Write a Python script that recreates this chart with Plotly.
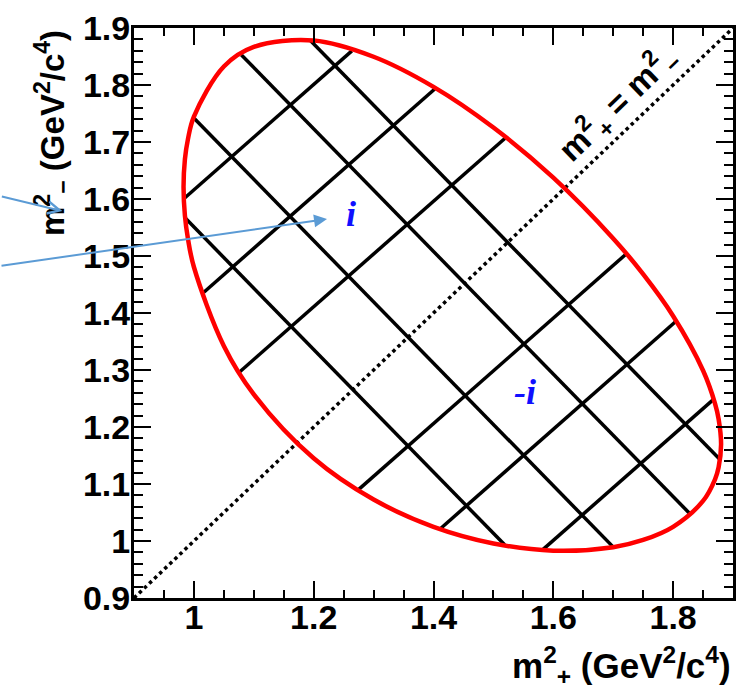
import plotly.graph_objects as go

# Dalitz-plot boundary (m+^2, m-^2) in GeV^2/c^4 : upper branch left->right, lower branch right->left
bnd_x = [0.9827, 0.985, 0.99, 1.0, 1.05, 1.1, 1.2, 1.3, 1.4, 1.5, 1.6, 1.7, 1.75, 1.8, 1.85, 1.87, 1.876, 1.8801,
         1.876, 1.87, 1.85, 1.8, 1.75, 1.7, 1.6, 1.5, 1.4, 1.3, 1.2, 1.1, 1.05, 1.0, 0.99, 0.985]
bnd_y = [1.6215, 1.6696, 1.7046, 1.7446, 1.8324, 1.8668, 1.8781, 1.8496, 1.7968, 1.7254, 1.6375, 1.5309, 1.4681,
         1.3948, 1.2992, 1.2412, 1.2140, 1.1697,
         1.1294, 1.1083, 1.0703, 1.0249, 1.0018, 0.9892, 0.9831, 0.9957, 1.0249, 1.0727, 1.1451, 1.2574, 1.3423,
         1.4807, 1.5308, 1.5709]

# bin edges: two families of straight lines y = slope*x + offset
edge_a_slope = -1.075
edge_a_offsets = [2.626, 2.817, 3.013, 3.162]
edge_b_slope = 0.925
edge_b_offsets = [0.691, 0.496, 0.301, -0.089, -0.284, -0.479]

diag = [0.9, 1.9]
label_i = (1.262, 1.573)
label_mi = (1.553, 1.262)

x_ticks = [1.0, 1.2, 1.4, 1.6, 1.8]
y_ticks = [0.9, 1.0, 1.1, 1.2, 1.3, 1.4, 1.5, 1.6, 1.7, 1.8, 1.9]


def chord(slope, c):
    pts = []
    n = len(bnd_x)
    for k in range(n):
        x1, y1 = bnd_x[k], bnd_y[k]
        x2, y2 = bnd_x[(k + 1) % n], bnd_y[(k + 1) % n]
        f1 = y1 - (slope * x1 + c)
        f2 = y2 - (slope * x2 + c)
        if f1 == 0:
            pts.append((x1, y1))
        elif f1 * f2 < 0:
            t = f1 / (f1 - f2)
            pts.append((x1 + t * (x2 - x1), y1 + t * (y2 - y1)))
    return pts[0], pts[-1]


gx, gy = [], []
for c in edge_a_offsets:
    a, b = chord(edge_a_slope, c)
    gx += [a[0], b[0], None]
    gy += [a[1], b[1], None]
for c in edge_b_offsets:
    a, b = chord(edge_b_slope, c)
    gx += [a[0], b[0], None]
    gy += [a[1], b[1], None]

# closed boundary loop, start at the top (smooth point)
k0 = bnd_x.index(1.2)
lx = bnd_x[k0:] + bnd_x[:k0 + 1]
ly = bnd_y[k0:] + bnd_y[:k0 + 1]

fig = go.Figure()
fig.add_trace(go.Scatter(x=diag, y=diag, mode="lines",
                         line=dict(color="black", width=3.5, dash="dot"), hoverinfo="skip"))
fig.add_trace(go.Scatter(x=gx, y=gy, mode="lines",
                         line=dict(color="black", width=3.5), hoverinfo="skip"))
fig.add_trace(go.Scatter(x=lx, y=ly, mode="lines", line_shape="spline",
                         line=dict(color="#ff0000", width=4.5), hoverinfo="skip"))

tickfont = dict(family="Liberation Sans", size=34, color="black", weight="bold")
fig.update_xaxes(range=[0.9, 1.9], tickvals=x_ticks, ticktext=["1", "1.2", "1.4", "1.6", "1.8"],
                 ticks="inside", ticklen=17, tickwidth=2, tickcolor="black", ticklabelstandoff=-13,
                 minor=dict(dtick=0.05, tick0=0.9, ticks="inside", ticklen=8, tickwidth=2, tickcolor="black"),
                 showline=True, linecolor="black", linewidth=3, mirror="allticks",
                 showgrid=False, zeroline=False, tickfont=tickfont)
fig.update_yaxes(range=[0.9, 1.9], tickvals=y_ticks,
                 ticktext=["0.9", "1", "1.1", "1.2", "1.3", "1.4", "1.5", "1.6", "1.7", "1.8", "1.9"],
                 ticks="inside", ticklen=17, tickwidth=2, tickcolor="black", ticklabelstandoff=-6,
                 minor=dict(dtick=0.02, tick0=0.9, ticks="inside", ticklen=9, tickwidth=2, tickcolor="black"),
                 showline=True, linecolor="black", linewidth=3, mirror="allticks",
                 showgrid=False, zeroline=False, tickfont=tickfont)

titlefont = dict(family="Liberation Sans", size=35, color="black", weight="bold")
blue = "#5b9bd5"
fig.update_layout(
    width=745, height=689,
    margin=dict(l=134, r=9, t=22, b=91),
    plot_bgcolor="white", paper_bgcolor="white",
    showlegend=False,
    annotations=[
        dict(text="m<sup>2</sup><sub>+</sub> (GeV<sup>2</sup>/c<sup>4</sup>)", xref="paper", yref="paper",
             x=1.0, y=-0.118, xanchor="right", yanchor="middle", showarrow=False, font=titlefont),
        dict(text="m<sup>2</sup><sub>\u2212</sub> (GeV<sup>2</sup>/c<sup>4</sup>)", xref="paper", yref="paper",
             x=-0.136, y=0.815, xanchor="center", yanchor="middle", textangle=-90, showarrow=False,
             font=dict(family="Liberation Sans", size=33, color="black", weight="bold")),
        dict(text="m<sup>2</sup><sub>+</sub> = m<sup>2</sup><sub>\u2212</sub>", xref="x", yref="y",
             x=1.707, y=1.768, textangle=-44, showarrow=False,
             font=dict(family="Liberation Sans", size=33, color="black", weight="bold")),
        dict(text="<b><i>i</i></b>", xref="x", yref="y", x=label_i[0], y=label_i[1], showarrow=False,
             font=dict(family="Liberation Serif", size=36, color="#1010ff")),
        dict(text="<b><i>-i</i></b>", xref="x", yref="y", x=label_mi[0], y=label_mi[1], showarrow=False,
             font=dict(family="Liberation Serif", size=36, color="#1010ff")),
        dict(text="", xref="paper", yref="paper", x=(62 - 134) / 602, y=(598 - 207) / 576,
             ax=-62, ay=-15, axref="pixel", ayref="pixel", showarrow=True, arrowhead=5,
             arrowsize=1.2, arrowwidth=2, arrowcolor=blue),
        dict(text="", xref="paper", yref="paper", x=(328 - 134) / 602, y=(598 - 215) / 576,
             ax=-328, ay=47, axref="pixel", ayref="pixel", showarrow=True, arrowhead=2,
             arrowsize=1.3, arrowwidth=2, arrowcolor=blue),
    ],
)

fig.write_html("out.html")
